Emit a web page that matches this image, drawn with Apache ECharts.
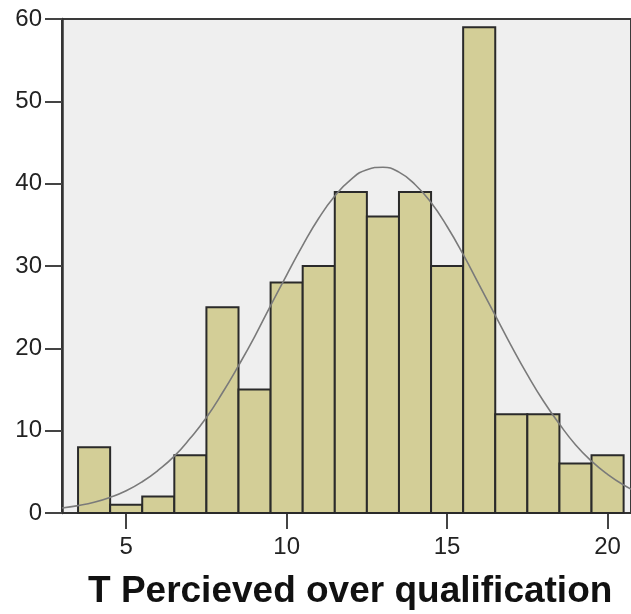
<!DOCTYPE html>
<html>
<head>
<meta charset="utf-8">
<script src="https://cdn.jsdelivr.net/npm/echarts@6/dist/echarts.min.js"></script>
<style>html,body{margin:0;padding:0;background:#fff;}#c{width:631px;height:614px;}</style>
</head>
<body>
<div id="c"></div>
<script>
// Histogram bins (bin centres) and counts
var binCenters = [4, 5, 6, 7, 8, 9, 10, 11, 12, 13, 14, 15, 16, 17, 18, 19, 20];
var counts     = [8, 1, 2, 7, 25, 15, 28, 30, 39, 36, 39, 30, 59, 12, 12, 6, 7];
// Fitted normal curve at half-unit steps
var curveX = [3, 3.5, 4, 4.5, 5, 5.5, 6, 6.5, 7, 7.5, 8, 8.5, 9, 9.5, 10, 10.5, 11, 11.5, 12, 12.5, 13, 13.5, 14, 14.5, 15, 15.5, 16, 16.5, 17, 17.5, 18, 18.5, 19, 19.5, 20, 20.5, 21];
var curveY = [0.6, 0.9, 1.3, 1.9, 2.7, 3.8, 5.2, 6.9, 9.1, 11.6, 14.6, 17.9, 21.4, 25.2, 28.9, 32.5, 35.8, 38.5, 40.5, 41.7, 42.0, 41.4, 39.9, 37.7, 34.8, 31.4, 27.7, 24.0, 20.3, 16.8, 13.6, 10.8, 8.3, 6.3, 4.7, 3.4, 2.4];
var xTicks = [5, 10, 15, 20];
var xTitle = 'T Percieved over qualification';

var barData = binCenters.map(function (c, i) { return [c, counts[i]]; });
var lineData = curveX.map(function (x, i) { return [x, curveY[i]]; });

var chart = echarts.init(document.getElementById('c'), null, {renderer: 'canvas'});
var font = '"Liberation Sans", Arial, sans-serif';
chart.setOption({
  animation: false,
  grid: {
    left: 62, top: 19, bottom: 101, right: 0,
    show: true, backgroundColor: '#efefef', borderColor: '#3a3a3a', borderWidth: 2
  },
  xAxis: {
    type: 'value', min: 3, max: 20.73,
    splitLine: {show: false},
    axisLine: {show: true, onZero: false, lineStyle: {color: '#333', width: 2}},
    axisTick: {show: true, customValues: xTicks, length: 16, lineStyle: {color: '#444', width: 2}},
    axisLabel: {customValues: xTicks, fontSize: 24, fontFamily: font, color: '#222', margin: 22}
  },
  yAxis: {
    type: 'value', min: 0, max: 60, interval: 10,
    splitLine: {show: false},
    axisLine: {show: true, lineStyle: {color: '#333', width: 2.5}},
    axisTick: {show: true, length: 17, lineStyle: {color: '#444', width: 2}},
    axisLabel: {fontSize: 24, fontFamily: font, color: '#222', margin: 20}
  },
  graphic: [{
    type: 'text', left: 88, top: 573,
    style: {text: xTitle, font: 'bold 37px ' + font, fill: '#111'}
  }],
  series: [{
    type: 'custom',
    data: barData,
    renderItem: function (params, api) {
      var c = api.value(0), v = api.value(1);
      var p0 = api.coord([c - 0.5, v]);
      var p1 = api.coord([c + 0.5, 0]);
      return {
        type: 'rect',
        shape: {x: p0[0], y: p0[1], width: p1[0] - p0[0], height: p1[1] - p0[1]},
        style: {fill: '#d3ce97', stroke: '#2a2a2a', lineWidth: 2}
      };
    },
    z: 2
  }, {
    type: 'line',
    data: lineData,
    smooth: true,
    showSymbol: false,
    lineStyle: {color: '#7a7a7a', width: 1.6},
    z: 3
  }]
});
</script>
</body>
</html>
